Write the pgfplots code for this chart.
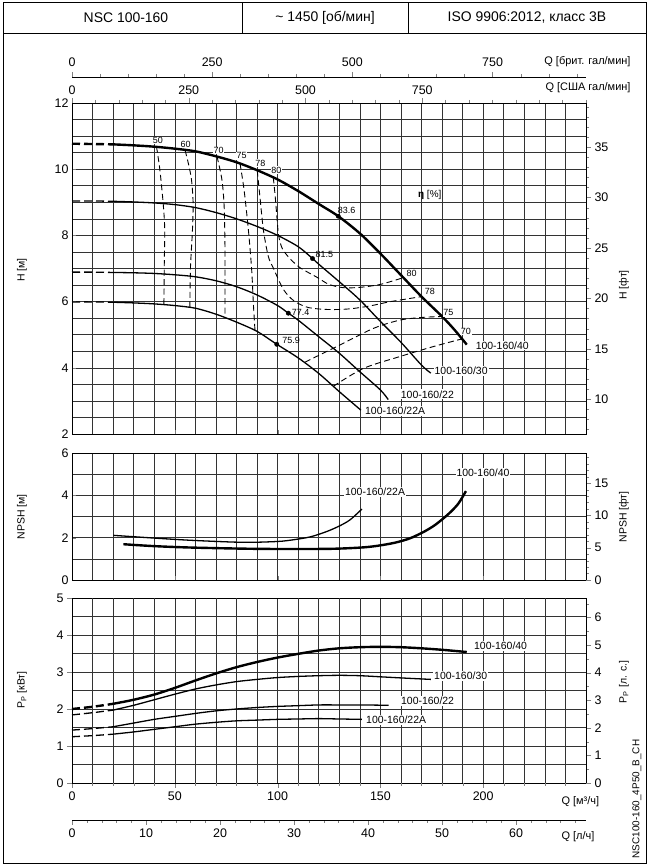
\documentclass[border=0pt]{standalone}
\usepackage{fontspec}
\setmainfont{Liberation Sans}
\usepackage{pgfplots}
\pgfplotsset{compat=1.18}

\pgfplotsset{
  panel/.style={
    scale only axis, width=514bp, anchor=south west,
    xmin=0, xmax=250,
    xtick={0,50,...,200}, minor xtick={0,10,...,250},
    grid=both, grid style={black!80, line width=0.55bp},
    minor grid style={black!80, line width=0.55bp},
    axis line style={line width=0.8bp},
    tick align=inside, major tick length=4bp, minor tick length=0bp,
    xtick pos=bottom, ytick pos=left,
    /pgf/number format/assume math mode=true,
    ticklabel style={font=\fontsize{12.5}{14}\selectfont},
    xticklabels={},
    clip=false,
  },
  side/.style={
    scale only axis, width=514bp, anchor=south west,
    axis x line=none, axis y line*=right,
    xmin=0, xmax=250,
    axis line style={line width=0.8bp},
    tick align=outside, major tick length=5bp, minor tick length=3bp,
    /pgf/number format/assume math mode=true,
    ticklabel style={font=\fontsize{12.5}{14}\selectfont},
  },
  flow/.style={
    scale only axis, width=514bp, height=20bp,
    axis y line=none, xmin=0, ymin=0, ymax=1,
    axis line style={line width=0.8bp},
    tick align=outside, major tick length=5bp, minor tick length=3bp,
    /pgf/number format/assume math mode=true,
    ticklabel style={font=\fontsize{12.5}{14}\selectfont},
  },
  pump/.style={black, line width=1.3bp, smooth},
  pumpd/.style={black, line width=1.3bp, smooth, dash pattern=on 8bp off 4bp},
  big/.style={black, line width=2.4bp, smooth},
  bigd/.style={black, line width=2.4bp, smooth, dash pattern=on 8bp off 4bp},
  iso/.style={black, line width=0.9bp, smooth, dash pattern=on 6bp off 3.5bp},
}
\newcommand{\lab}{\fontsize{10.5}{12}\selectfont}
\newcommand{\eff}{\fontsize{9}{10}\selectfont}

\begin{document}
\begin{tikzpicture}[x=1bp,y=1bp]
\path[use as bounding box] (0,0) rectangle (650,867);

% frame and header
\draw[line width=1bp] (3,3) rectangle (646,864);
\draw[line width=0.9bp] (3,834) -- (646,834);
\draw[line width=0.9bp] (242,834) -- (242,864);
\draw[line width=0.9bp] (408,834) -- (408,864);
\node[font=\fontsize{14}{16}\selectfont] at (126,849.5) {NSC 100-160};
\node[font=\fontsize{14}{16}\selectfont] at (325,849.5) {\char"007E{} 1450 [об/мин]};
\node[font=\fontsize{14}{16}\selectfont] at (527,849.5) {ISO 9906:2012, класс 3B};

% ---------------- H panel ----------------
\begin{axis}[panel, at={(72bp,433bp)}, height=331bp,
  ymin=2, ymax=12, ytick={2,4,...,12}, minor ytick={2,2.5,...,12}]
% /40
\addplot[bigd] coordinates {(0,10.77) (10,10.76) (20,10.75)};
\addplot[big] coordinates {(20,10.75) (30,10.72) (40,10.68) (50,10.62) (60,10.54)
  (70,10.39) (80,10.21) (90,9.97) (100,9.69) (110,9.34) (120,8.95) (129.5,8.58)
  (140,8.06) (150,7.45) (160,6.8) (170,6.15) (180,5.55) (186,5.15) (192,4.7)};
% /30
\addplot[pumpd] coordinates {(0,9.04) (10,9.04) (20,9.03)};
\addplot[pump] coordinates {(20,9.03) (30,9.01) (40,8.98) (50,8.93) (60,8.84)
  (70,8.69) (80,8.5) (90,8.27) (100,8.0) (110,7.66) (117,7.3) (120,7.13)
  (130,6.6) (140,6.05) (150,5.4) (160,4.77) (170,4.08) (174.5,3.84)};
% /22
\addplot[pumpd] coordinates {(0,6.89) (10,6.89) (20,6.88)};
\addplot[pump] coordinates {(20,6.88) (30,6.87) (40,6.85) (50,6.81) (60,6.75)
  (70,6.63) (80,6.45) (90,6.2) (100,5.88) (105.2,5.65) (110,5.44) (120,4.94)
  (130,4.44) (140,3.88) (150,3.33) (153.8,3.04)};
% /22A
\addplot[pumpd] coordinates {(0,5.99) (10,5.99) (20,5.98)};
\addplot[pump] coordinates {(20,5.98) (30,5.96) (40,5.93) (50,5.88) (60,5.8)
  (70,5.62) (80,5.38) (90,5.1) (99.6,4.71) (110,4.3) (120,3.83) (130,3.28) (140.5,2.72)};
% iso-efficiency lines
\addplot[iso] coordinates {(41.1,10.68) (42.7,10.0) (44.3,9.0) (45.1,8.2) (44.9,7.2) (44.7,5.91)};
\addplot[iso] coordinates {(55,10.57) (56.5,10.2) (58.1,9.69) (58.9,8.98) (58.6,8.18) (58,7.5) (57.6,6.97) (57.3,5.8)};
\addplot[iso] coordinates {(70.5,10.39) (72.9,9.69) (74,8.88) (74.4,7.68) (74.4,6.67) (74.4,5.52)};
\addplot[iso] coordinates {(81.7,10.18) (83.7,9.37) (85.8,8.16) (87.4,6.95) (88.2,5.95) (89,5.13)};
\addplot[iso] coordinates {(90.1,9.96) (91.4,9.17) (93.1,8.16) (95.5,7.36) (98,7.0)
  (102.8,6.37) (108,6.02) (115,5.82) (125,5.76) (135,5.78) (145,5.87) (155,6.0) (170,6.15)};
\addplot[iso] coordinates {(97.9,9.75) (98.8,9.2) (99.6,8.6) (100.5,8.0) (102.3,7.6)
  (106,7.3) (111,7.02) (119,6.74) (125,6.52) (132,6.42) (140,6.43) (150,6.52) (161,6.72)};
\addplot[iso] coordinates {(113.3,4.17) (128.7,4.64) (146.6,5.19) (159.5,5.44) (170,5.52) (179.8,5.55)};
\addplot[iso] coordinates {(127.1,3.44) (141.7,3.98) (159.5,4.34) (175.7,4.64) (189.5,4.87)};
% best efficiency points
\addplot[only marks, mark=*, mark size=2.2bp, black] coordinates {(129.5,8.58) (117,7.3) (105.2,5.65) (99.6,4.71)};
% labels
\begin{scope}[every node/.style={font=\eff, inner sep=0.6bp, fill=white}]
\node at (axis cs:41.8,10.86) {50};
\node at (axis cs:55.3,10.76) {60};
\node at (axis cs:71.3,10.57) {70};
\node at (axis cs:82.5,10.4) {75};
\node at (axis cs:91.6,10.18) {78};
\node at (axis cs:99.4,9.97) {80};
\node at (axis cs:165.2,6.86) {80};
\node at (axis cs:174.1,6.3) {78};
\node at (axis cs:183,5.66) {75};
\node at (axis cs:191.6,5.1) {70};
\end{scope}
\begin{scope}[every node/.style={font=\eff, inner sep=0.4bp}]
\node at (axis cs:133.6,8.76) {83.6};
\node at (axis cs:122.7,7.42) {81.5};
\node at (axis cs:111.2,5.67) {77.4};
\node at (axis cs:106.6,4.84) {75.9};
\end{scope}
\node[font=\fontsize{10}{12}\selectfont] at (axis cs:174,9.22) {\textbf{η} [\%]};
\begin{scope}[every node/.style={font=\lab, inner sep=1bp, fill=white, anchor=west}]
\node at (axis cs:195.8,4.67) {100-160/40};
\node at (axis cs:175.8,3.91) {100-160/30};
\node at (axis cs:159.4,3.2) {100-160/22};
\node at (axis cs:142,2.7) {100-160/22A};
\end{scope}
\end{axis}
% H in feet
\begin{axis}[side, at={(72bp,433bp)}, height=331bp,
  ymin=6.5617, ymax=39.370, ytick={10,15,...,35}, minor ytick={7,8,...,39}]
\end{axis}
% US gal/min
\begin{axis}[flow, at={(72bp,764bp)}, anchor=north west, axis x line*=top,
  xmax=1100.7, xtick={0,250,500,750}, minor xtick={0,50,...,1100}]
\end{axis}
% UK gal/min
\begin{axis}[flow, at={(72bp,790bp)}, anchor=north west, axis x line*=top,
  xmax=916.6, xtick={0,250,500,750}, minor xtick={0,50,...,900},
  xticklabel style={yshift=2bp}]
\end{axis}
\node[font=\fontsize{11}{13}\selectfont, anchor=east] at (634,805) {Q [брит. гал/мин]};
\node[font=\fontsize{11}{13}\selectfont, anchor=east] at (634,779) {Q [США гал/мин]};

% ---------------- NPSH panel ----------------
\begin{axis}[panel, at={(72bp,287bp)}, height=127bp,
  ymin=0, ymax=6, ytick={0,2,4,6}, minor ytick={0,1,...,6}]
\addplot[pump] coordinates {(20.1,2.11) (40,1.98) (59,1.87) (83.3,1.78) (100,1.82)
  (107.6,1.9) (116,2.04) (123.9,2.29) (130,2.55) (135.2,2.84) (141,3.35)};
\addplot[big] coordinates {(25,1.69) (40,1.6) (59,1.53) (91.4,1.47) (124,1.47)
  (140,1.53) (148.2,1.61) (157,1.76) (164.4,1.97) (171,2.27) (176,2.56)
  (180,2.86) (184,3.2) (188,3.62) (191.6,4.2)};
\begin{scope}[every node/.style={font=\lab, inner sep=1bp, fill=white}]
\node at (axis cs:147.4,4.16) {100-160/22A};
\node at (axis cs:199.9,5.05) {100-160/40};
\end{scope}
\end{axis}
\begin{axis}[side, at={(72bp,287bp)}, height=127bp,
  ymin=0, ymax=19.685, ytick={0,5,10,15}, minor ytick={1,2,...,19}]
\end{axis}

% ---------------- Power panel ----------------
\begin{axis}[panel, at={(72bp,84bp)}, height=185bp,
  ymin=0, ymax=5, ytick={0,1,...,5}, minor ytick={0,0.5,...,5},
  tick align=outside, major tick length=5bp,
  xticklabels={0,50,100,150,200},
  extra x ticks={10,20,30,40,60,70,80,90,110,120,130,140,160,170,180,190,210,220,230,240},
  extra x tick labels={}, extra x tick style={major tick length=3bp}]
\addplot[bigd] coordinates {(0,2.0) (10,2.06) (20,2.14)};
\addplot[big] coordinates {(20,2.14) (30,2.25) (40,2.39) (50,2.57) (60,2.77) (70,2.96)
  (80,3.13) (90,3.27) (100,3.39) (110,3.49) (120,3.58) (130,3.64) (140,3.67)
  (150,3.68) (160,3.67) (170,3.64) (180,3.6) (192,3.54)};
\addplot[pumpd] coordinates {(0,1.84) (10,1.9) (20,1.97)};
\addplot[pump] coordinates {(20,1.97) (30,2.1) (40,2.25) (50,2.4) (60,2.54) (70,2.65)
  (80,2.74) (90,2.8) (100,2.85) (110,2.88) (120,2.9) (130,2.91) (140,2.9)
  (150,2.87) (160,2.84) (174.5,2.8)};
\addplot[pumpd] coordinates {(0,1.43) (10,1.47) (20,1.52)};
\addplot[pump] coordinates {(20,1.52) (30,1.62) (40,1.72) (50,1.8) (60,1.88) (70,1.95)
  (80,2.0) (90,2.04) (100,2.07) (110,2.09) (120,2.11) (130,2.11) (140,2.11) (154,2.1)};
\addplot[pumpd] coordinates {(0,1.25) (10,1.28) (20,1.32)};
\addplot[pump] coordinates {(20,1.32) (30,1.38) (40,1.45) (50,1.52) (60,1.59) (70,1.64)
  (80,1.68) (90,1.7) (100,1.72) (110,1.73) (120,1.74) (130,1.73) (141,1.72)};
\begin{scope}[every node/.style={font=\lab, inner sep=1bp, fill=white, anchor=west}]
\node at (axis cs:195,3.7) {100-160/40};
\node at (axis cs:175.6,2.89) {100-160/30};
\node at (axis cs:159.5,2.22) {100-160/22};
\node at (axis cs:142.5,1.71) {100-160/22A};
\end{scope}
\end{axis}
\begin{axis}[side, at={(72bp,84bp)}, height=185bp,
  ymin=0, ymax=6.7051, ytick={0,1,...,6}, minor ytick={0.5,1,...,6.5}]
\end{axis}
% litres per second
\begin{axis}[flow, at={(72bp,47bp)}, anchor=south west, axis x line*=bottom,
  xmax=69.444, xtick={0,10,...,60}, minor xtick={0,2,...,68}]
\end{axis}
\node[font=\fontsize{11}{13}\selectfont, anchor=west] at (558,65) {Q [м³/ч]};
\node[font=\fontsize{11}{13}\selectfont, anchor=west] at (558,30) {Q [л/ч]};

% axis titles
\begin{scope}[every node/.style={font=\fontsize{10.5}{12}\selectfont, rotate=90}]
\node at (22,597) {H [м]};
\node at (22,350) {NPSH [м]};
\node at (22,177) {P\textsubscript{P} [кВт]};
\node at (624,582) {H [фт]};
\node at (624,350) {NPSH [фт]};
\node at (624,185) {P\textsubscript{P} [л. с.]};
\end{scope}
\node[font=\fontsize{10}{12}\selectfont, rotate=90] at (637,68) {NSC100-160\_4P50\_B\_CH};
\end{tikzpicture}
\end{document}
